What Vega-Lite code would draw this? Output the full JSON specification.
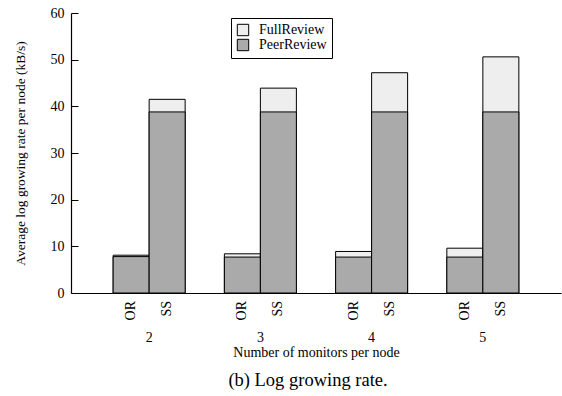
{
  "$schema": "https://vega.github.io/schema/vega-lite/v6.json",
  "width": 490,
  "height": 280,
  "autosize": {"type": "none"},
  "padding": {"left": 71, "top": 13, "right": 1, "bottom": 103},
  "config": {
    "font": "Liberation Serif",
    "view": {"stroke": null},
    "axis": {"labelColor": "black", "titleColor": "black", "domainColor": "black", "tickColor": "black", "grid": false, "labelFontSize": 14, "titleFontSize": 14, "titleFontWeight": "normal", "domainWidth": 1.2}
  },
  "title": {"text": "(b) Log growing rate.", "orient": "bottom", "fontSize": 18.5, "fontWeight": "normal", "offset": 12, "dx": -8, "color": "black"},
  "data": {
    "values": [
      {"n": "2", "method": "OR", "series": "FullReview", "value": 8.1},
      {"n": "2", "method": "SS", "series": "FullReview", "value": 41.5},
      {"n": "3", "method": "OR", "series": "FullReview", "value": 8.4},
      {"n": "3", "method": "SS", "series": "FullReview", "value": 43.9},
      {"n": "4", "method": "OR", "series": "FullReview", "value": 8.9},
      {"n": "4", "method": "SS", "series": "FullReview", "value": 47.2},
      {"n": "5", "method": "OR", "series": "FullReview", "value": 9.6},
      {"n": "5", "method": "SS", "series": "FullReview", "value": 50.6},
      {"n": "2", "method": "OR", "series": "PeerReview", "value": 7.8},
      {"n": "2", "method": "SS", "series": "PeerReview", "value": 38.8},
      {"n": "3", "method": "OR", "series": "PeerReview", "value": 7.7},
      {"n": "3", "method": "SS", "series": "PeerReview", "value": 38.8},
      {"n": "4", "method": "OR", "series": "PeerReview", "value": 7.7},
      {"n": "4", "method": "SS", "series": "PeerReview", "value": 38.8},
      {"n": "5", "method": "OR", "series": "PeerReview", "value": 7.7},
      {"n": "5", "method": "SS", "series": "PeerReview", "value": 38.8}
    ]
  },
  "encoding": {
    "x": {
      "field": "n", "type": "nominal",
      "scale": {"paddingInner": 0.3527, "paddingOuter": 0.379},
      "axis": {"title": "Number of monitors per node", "labelAngle": 0, "ticks": false, "labelPadding": 37, "titlePadding": 1}
    },
    "xOffset": {"field": "method", "type": "nominal", "scale": {"domain": ["OR", "SS"], "paddingInner": 0, "paddingOuter": 0}}
  },
  "layer": [
    {
      "mark": {"type": "bar", "stroke": "black", "strokeWidth": 1},
      "encoding": {
        "y": {
          "field": "value", "type": "quantitative", "stack": null,
          "scale": {"domain": [0, 60]},
          "title": "Average log growing rate per node (kB/s)",
          "axis": {"values": [0, 10, 20, 30, 40, 50, 60], "tickSize": -7, "labelPadding": 14, "titlePadding": 23, "titleFontSize": 13.5}
        },
        "color": {
          "field": "series", "type": "nominal",
          "scale": {"domain": ["FullReview", "PeerReview"], "range": ["#eeeeee", "#aaaaaa"]},
          "legend": {"orient": "none", "legendX": 160, "legendY": 5, "title": null, "strokeColor": "black", "fillColor": "white", "padding": 5, "symbolType": "square", "symbolSize": 130, "symbolStrokeColor": "black", "symbolStrokeWidth": 1, "symbolOpacity": 1, "labelFontSize": 14, "labelColor": "black", "labelOffset": 9, "rowPadding": -3}
        }
      }
    },
    {
      "transform": [{"filter": "datum.series === 'PeerReview'"}],
      "mark": {"type": "text", "angle": 270, "align": "right", "baseline": "middle", "dx": -8, "fontSize": 14, "color": "black"},
      "encoding": {
        "y": {"datum": 0, "type": "quantitative", "title": "Average log growing rate per node (kB/s)"},
        "text": {"field": "method"}
      }
    }
  ]
}
